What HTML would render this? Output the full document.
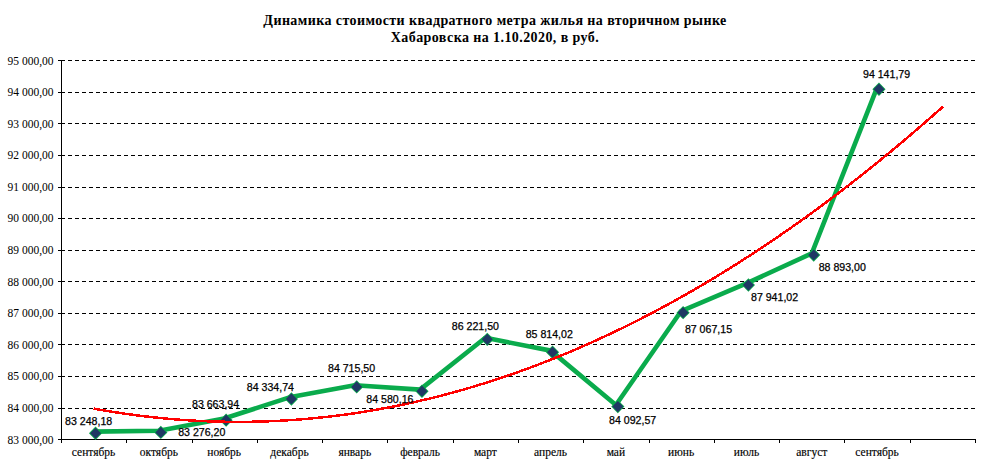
<!DOCTYPE html>
<html><head><meta charset="utf-8"><style>
html,body{margin:0;padding:0;background:#fff;width:990px;height:468px;overflow:hidden;position:relative}
.t{position:absolute;left:0;width:990px;text-align:center;font:bold 14px/17px "Liberation Serif",serif;letter-spacing:0.42px;color:#000}
.yl{position:absolute;left:0;width:53.6px;text-align:right;font:11.5px/14px "Liberation Serif",serif;color:#000}
.ml{position:absolute;top:445.3px;width:80px;text-align:center;font:11.5px/14px "Liberation Serif",serif;color:#000;-webkit-text-stroke:0.15px #000}
.dl{position:absolute;font:10.6px/12px "Liberation Sans",sans-serif;color:#000;white-space:nowrap;-webkit-text-stroke:0.25px #000}
</style></head><body>
<svg width="990" height="468" viewBox="0 0 990 468" style="position:absolute;left:0;top:0"><path d="M61 408.5H975 M61 376.5H975 M61 344.5H975 M61 313.5H975 M61 281.5H975 M61 250.5H975 M61 218.5H975 M61 187.5H975 M61 155.5H975 M61 123.5H975 M61 92.5H975 M61 60.5H975" stroke="#000" stroke-width="1" stroke-dasharray="4 3" fill="none" shape-rendering="crispEdges"/><path d="M61.5 60.5V440.0 M61 439.5H976 M58 439.5H62 M58 408.5H62 M58 376.5H62 M58 344.5H62 M58 313.5H62 M58 281.5H62 M58 250.5H62 M58 218.5H62 M58 187.5H62 M58 155.5H62 M58 123.5H62 M58 92.5H62 M58 60.5H62 M61.5 439.5V443.0 M126.5 439.5V443.0 M192.5 439.5V443.0 M257.5 439.5V443.0 M322.5 439.5V443.0 M387.5 439.5V443.0 M453.5 439.5V443.0 M518.5 439.5V443.0 M583.5 439.5V443.0 M649.5 439.5V443.0 M714.5 439.5V443.0 M779.5 439.5V443.0 M844.5 439.5V443.0 M910.5 439.5V443.0 M975.5 439.5V443.0" stroke="#000" stroke-width="1" fill="none" shape-rendering="crispEdges"/><polyline points="93.64,431.66 158.93,430.78 224.21,418.53 289.50,397.34 354.79,385.32 420.07,389.59 485.36,337.76 550.64,350.62 615.93,404.99 681.21,311.05 746.50,283.45 811.79,253.38 877.07,87.61" stroke="#0aab4c" stroke-width="4.6" fill="none" stroke-linejoin="round"/><path d="M95.54 426.56L102.14 433.26L95.54 439.96L88.94 433.26Z" fill="#0aab4c"/><path d="M95.54 427.66L101.04 433.26L95.54 438.86L90.04 433.26Z" fill="#1f3864"/><path d="M160.83 425.68L167.43 432.38L160.83 439.08L154.23 432.38Z" fill="#0aab4c"/><path d="M160.83 426.78L166.33 432.38L160.83 437.98L155.33 432.38Z" fill="#1f3864"/><path d="M226.11 413.43L232.71 420.13L226.11 426.83L219.51 420.13Z" fill="#0aab4c"/><path d="M226.11 414.53L231.61 420.13L226.11 425.73L220.61 420.13Z" fill="#1f3864"/><path d="M291.40 392.24L298.00 398.94L291.40 405.64L284.80 398.94Z" fill="#0aab4c"/><path d="M291.40 393.34L296.90 398.94L291.40 404.54L285.90 398.94Z" fill="#1f3864"/><path d="M356.69 380.22L363.29 386.92L356.69 393.62L350.09 386.92Z" fill="#0aab4c"/><path d="M356.69 381.32L362.19 386.92L356.69 392.52L351.19 386.92Z" fill="#1f3864"/><path d="M421.97 384.49L428.57 391.19L421.97 397.89L415.37 391.19Z" fill="#0aab4c"/><path d="M421.97 385.59L427.47 391.19L421.97 396.79L416.47 391.19Z" fill="#1f3864"/><path d="M487.26 332.66L493.86 339.36L487.26 346.06L480.66 339.36Z" fill="#0aab4c"/><path d="M487.26 333.76L492.76 339.36L487.26 344.96L481.76 339.36Z" fill="#1f3864"/><path d="M552.54 345.52L559.14 352.22L552.54 358.92L545.94 352.22Z" fill="#0aab4c"/><path d="M552.54 346.62L558.04 352.22L552.54 357.82L547.04 352.22Z" fill="#1f3864"/><path d="M617.83 399.89L624.43 406.59L617.83 413.29L611.23 406.59Z" fill="#0aab4c"/><path d="M617.83 400.99L623.33 406.59L617.83 412.19L612.33 406.59Z" fill="#1f3864"/><path d="M683.11 305.95L689.71 312.65L683.11 319.35L676.51 312.65Z" fill="#0aab4c"/><path d="M683.11 307.05L688.61 312.65L683.11 318.25L677.61 312.65Z" fill="#1f3864"/><path d="M748.40 278.35L755.00 285.05L748.40 291.75L741.80 285.05Z" fill="#0aab4c"/><path d="M748.40 279.45L753.90 285.05L748.40 290.65L742.90 285.05Z" fill="#1f3864"/><path d="M813.69 248.28L820.29 254.98L813.69 261.68L807.09 254.98Z" fill="#0aab4c"/><path d="M813.69 249.38L819.19 254.98L813.69 260.58L808.19 254.98Z" fill="#1f3864"/><path d="M878.97 82.51L885.57 89.21L878.97 95.91L872.37 89.21Z" fill="#0aab4c"/><path d="M878.97 83.61L884.47 89.21L878.97 94.81L873.47 89.21Z" fill="#1f3864"/><polyline points="93.64,408.60 104.39,410.50 115.13,412.26 125.87,413.87 136.62,415.33 147.36,416.64 158.10,417.81 168.85,418.83 179.59,419.71 190.33,420.43 201.08,421.01 211.82,421.45 222.56,421.73 233.31,421.87 244.05,421.86 254.80,421.71 265.54,421.41 276.28,420.96 287.03,420.36 297.77,419.62 308.52,418.73 319.26,417.69 330.01,416.50 340.75,415.17 351.50,413.70 362.24,412.07 372.99,410.30 383.73,408.38 394.48,406.32 405.23,404.10 415.97,401.74 426.72,399.24 437.47,396.59 448.21,393.79 458.96,390.84 469.71,387.75 480.46,384.51 491.20,381.12 501.95,377.59 512.70,373.91 523.45,370.09 534.20,366.11 544.95,362.00 555.70,357.73 566.45,353.32 577.20,348.76 587.95,344.05 598.70,339.20 609.45,334.20 620.20,329.06 630.96,323.77 641.71,318.33 652.46,312.75 663.21,307.02 673.97,301.14 684.72,295.12 695.48,288.95 706.23,282.63 716.99,276.17 727.74,269.56 738.50,262.81 749.26,255.90 760.01,248.86 770.77,241.66 781.53,234.32 792.29,226.84 803.05,219.20 813.80,211.43 824.56,203.50 835.32,195.43 846.09,187.21 856.85,178.85 867.61,170.34 878.37,161.68 889.13,152.88 899.90,143.94 910.66,134.84 921.43,125.60 932.19,116.22 942.96,106.68" stroke="#ff0000" stroke-width="2.5" fill="none" shape-rendering="crispEdges"/></svg>
<div class="t" style="top:12px">Динамика стоимости квадратного метра жилья на вторичном рынке<br>Хабаровска на 1.10.2020, в руб.</div><div class="yl" style="top:432.5px">83 000,00</div><div class="yl" style="top:400.9px">84 000,00</div><div class="yl" style="top:369.3px">85 000,00</div><div class="yl" style="top:337.8px">86 000,00</div><div class="yl" style="top:306.2px">87 000,00</div><div class="yl" style="top:274.6px">88 000,00</div><div class="yl" style="top:243.0px">89 000,00</div><div class="yl" style="top:211.4px">90 000,00</div><div class="yl" style="top:179.8px">91 000,00</div><div class="yl" style="top:148.3px">92 000,00</div><div class="yl" style="top:116.7px">93 000,00</div><div class="yl" style="top:85.1px">94 000,00</div><div class="yl" style="top:53.5px">95 000,00</div><div class="ml" style="left:53.6px">сентябрь</div><div class="ml" style="left:118.9px">октябрь</div><div class="ml" style="left:184.2px">ноябрь</div><div class="ml" style="left:249.5px">декабрь</div><div class="ml" style="left:314.8px">январь</div><div class="ml" style="left:380.1px">февраль</div><div class="ml" style="left:445.4px">март</div><div class="ml" style="left:510.6px">апрель</div><div class="ml" style="left:575.9px">май</div><div class="ml" style="left:641.2px">июнь</div><div class="ml" style="left:706.5px">июль</div><div class="ml" style="left:771.8px">август</div><div class="ml" style="left:837.1px">сентябрь</div><div class="dl" style="left:65.1px;top:414.6px">83 248,18</div><div class="dl" style="left:178.2px;top:425.8px">83 276,20</div><div class="dl" style="left:192.0px;top:398.1px">83 663,94</div><div class="dl" style="left:246.8px;top:380.9px">84 334,74</div><div class="dl" style="left:328.0px;top:361.7px">84 715,50</div><div class="dl" style="left:366.3px;top:393.0px">84 580,16</div><div class="dl" style="left:451.8px;top:320.3px">86 221,50</div><div class="dl" style="left:525.7px;top:328.1px">85 814,02</div><div class="dl" style="left:609.1px;top:413.5px">84 092,57</div><div class="dl" style="left:684.9px;top:322.9px">87 067,15</div><div class="dl" style="left:751.0px;top:290.8px">87 941,02</div><div class="dl" style="left:818.7px;top:260.8px">88 893,00</div><div class="dl" style="left:863.0px;top:68.3px">94 141,79</div>
</body></html>
